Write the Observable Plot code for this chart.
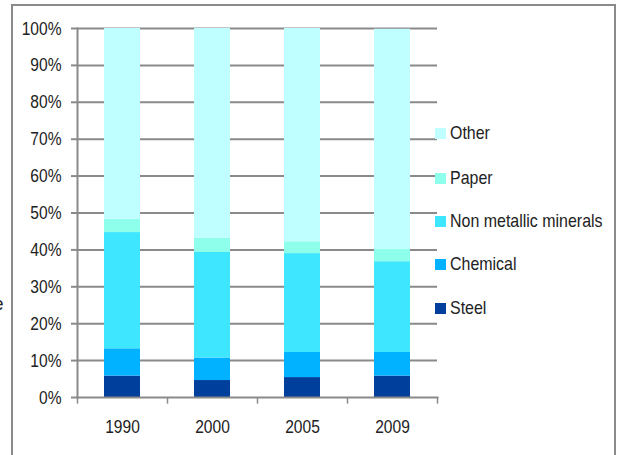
<!DOCTYPE html>
<html>
<head>
<meta charset="utf-8">
<script src="https://cdn.jsdelivr.net/npm/d3@7"></script>
<script src="https://cdn.jsdelivr.net/npm/@observablehq/plot@0.6"></script>
<style>
  html, body { margin: 0; padding: 0; background: #fff; }
  #wrap { position: relative; width: 619px; height: 455px; overflow: hidden; font-family: "Liberation Sans", Arial, sans-serif; }
  #frame { position: absolute; left: 11px; top: 4px; width: 605px; height: 470px; border: 2px solid #8a8a8a; box-sizing: border-box; }
  #chart { position: absolute; left: 0; top: 0; }
  #legend { position: absolute; left: 435px; top: 0; font-size: 19px; color: #222; }
  .item { position: absolute; left: 0; white-space: nowrap; display: flex; align-items: center; height: 20px; }
  .sw { width: 11px; height: 11px; margin-right: 4px; flex: none; }
  .tx { display: inline-block; transform: scaleX(0.84); transform-origin: left center; }
  #cut { position: absolute; left: -7px; top: 293px; font-size: 19px; color: #222; }
</style>
</head>
<body>
<div id="wrap">
  <div id="frame"></div>
  <div id="chart"></div>
  <div id="legend"></div>
  <div id="cut">e</div>
</div>
<script>
const years = ["1990", "2000", "2005", "2009"];
const sectors = ["Steel", "Chemical", "Non metallic minerals", "Paper", "Other"];
const colors = ["#003f9c", "#00b2ff", "#3fe6ff", "#8dffeb", "#c0ffff"];
// shares (%) per year, in sector order
const steel    = [5.8, 4.6, 5.4, 5.8];
const chemical = [7.4, 6.1, 6.8, 6.4];
const nonMetal = [31.5, 28.6, 26.8, 24.6];
const paper    = [3.6, 3.9, 3.2, 3.4];
const other    = [51.7, 56.8, 57.8, 59.6];
const yTicks = [0, 0.1, 0.2, 0.3, 0.4, 0.5, 0.6, 0.7, 0.8, 0.9, 1.0];
const legendOrder = ["Other", "Paper", "Non metallic minerals", "Chemical", "Steel"];

const seriesValues = [steel, chemical, nonMetal, paper, other];
const data = [];
years.forEach((yr, i) => {
  sectors.forEach((s, j) => {
    data.push({year: yr, sector: s, value: seriesValues[j][i] / 100});
  });
});

const gray = "#8a8a8a";
const chart = Plot.plot({
  width: 619,
  height: 455,
  marginLeft: 77,
  marginRight: 182,
  marginTop: 28,
  marginBottom: 58,
  style: {fontFamily: '"Liberation Sans", Arial, sans-serif', fontSize: "19px", color: "#222", background: "transparent"},
  x: {domain: years, paddingInner: 0.6, paddingOuter: 0.3, label: null},
  y: {domain: [0, 1], label: null},
  color: {domain: sectors, range: colors},
  marks: [
    Plot.ruleY(yTicks.slice(1), {stroke: gray, strokeWidth: 2}),
    Plot.barY(data, {x: "year", y: "value", fill: "sector", order: sectors}),
    Plot.axisY({ticks: yTicks, tickFormat: d => Math.round(d * 100) + "%", tickSize: 6, tickPadding: 10, stroke: gray, strokeWidth: 2, label: null}),
    Plot.axisX({tickSize: 0, tickPadding: 22, label: null}),
    Plot.ruleX(years, {x: d => d, dx: -45, y1: 0, y2: -0.018, stroke: gray, strokeWidth: 1.5}),
    Plot.ruleX(years.slice(-1), {x: d => d, dx: 45, y1: 0, y2: -0.018, stroke: gray, strokeWidth: 1.5}),
    Plot.frame({anchor: "left", stroke: gray, strokeWidth: 2}),
    Plot.frame({anchor: "bottom", stroke: gray, strokeWidth: 2})
  ]
});
// narrow the tick-label glyphs horizontally (condensed look)
chart.querySelectorAll("text").forEach(t => {
  const tr = t.getAttribute("transform") || "";
  t.setAttribute("transform", (tr + " scale(0.82,1)").trim());
});
document.getElementById("chart").appendChild(chart);

const legendY = [133, 178, 221, 264, 308];
const leg = document.getElementById("legend");
legendOrder.forEach((s, i) => {
  const it = document.createElement("div");
  it.className = "item";
  it.style.top = (legendY[i] - 10) + "px";
  const sw = document.createElement("span");
  sw.className = "sw";
  sw.style.background = colors[sectors.indexOf(s)];
  const tx = document.createElement("span");
  tx.className = "tx";
  tx.textContent = s;
  it.appendChild(sw);
  it.appendChild(tx);
  leg.appendChild(it);
});
</script>
</body>
</html>
